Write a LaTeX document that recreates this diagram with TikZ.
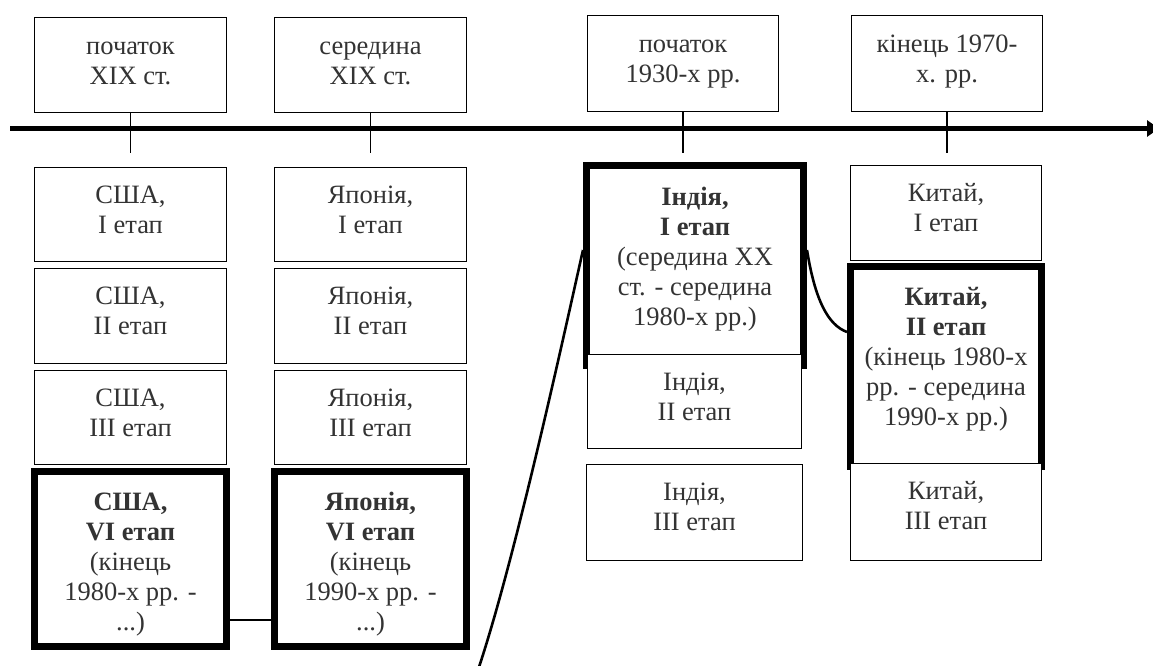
\documentclass[tikz,border=0pt]{standalone}
\usepackage{fontspec}
\setmainfont{Liberation Serif}
\usetikzlibrary{calc,arrows.meta}
\definecolor{txt}{HTML}{333333}
% box content: width, height, first-baseline offset, text
\newcommand\cellbox[4]{\parbox[c][#2pt][t]{#1pt}{\centering\rule{0pt}{#3pt}#4\par}}
\tikzset{
  cell/.style={draw, line width=1.3pt, fill=white, inner sep=0pt, text=txt,
               font=\fontsize{26.5}{30}\selectfont},
  boldcell/.style={cell, line width=7pt},
  tickline/.style={line width=1.6pt},
  axisline/.style={line width=4.5pt, -{Triangle[length=12pt,width=16pt]}},
  link/.style={line width=2.6pt},
}
\begin{document}
\begin{tikzpicture}[x=1pt,y=-1pt]
\useasboundingbox (0,0) rectangle (1153,666);

% time axis
\coordinate (axL) at (10,128.5);
\coordinate (axR) at (1159,128.5);
\draw[axisline] (axL) -- (axR);

% dates above the axis
\node[cell] (T1) at (130.5,65)  {\cellbox{192}{95}{37.5}{початок\\XIX ст.}};
\node[cell] (T2) at (370.5,65)  {\cellbox{192}{95}{37.5}{середина\\XIX ст.}};
\node[cell] (T3) at (683,63.5)  {\cellbox{191}{96}{37.5}{початок\\1930-х рр.}};
\node[cell] (T4) at (947,63.5)  {\cellbox{191}{96}{37.5}{кінець 1970-\\х. рр.}};

% ticks
\coordinate (k1) at (130.5,153);
\coordinate (k2) at (370.5,153);
\coordinate (k3) at (683,153);
\coordinate (k4) at (947,153);
\draw[tickline] (T1.south) -- (k1);
\draw[tickline] (T2.south) -- (k2);
\draw[tickline] (T3.south) -- (k3);
\draw[tickline] (T4.south) -- (k4);

% USA
\node[cell] (U1) at (130.5,214.5) {\cellbox{192}{94}{36}{США,\\I етап}};
\node[cell] (U2) at (130.5,316)   {\cellbox{192}{95}{36}{США,\\II етап}};
\node[cell] (U3) at (130.5,417.5) {\cellbox{192}{94}{36}{США,\\III етап}};
\node[boldcell] (UB) at (130.5,559) {\cellbox{192}{175}{39}{\textbf{США,}\\\textbf{VI етап}\\(кінець\\1980-х рр. -\\...)}};

% Japan
\node[cell] (J1) at (370.5,214.5) {\cellbox{192}{94}{36}{Японія,\\I етап}};
\node[cell] (J2) at (370.5,316)   {\cellbox{192}{95}{36}{Японія,\\II етап}};
\node[cell] (J3) at (370.5,417.5) {\cellbox{192}{94}{36}{Японія,\\III етап}};
\node[boldcell] (JB) at (370.5,559) {\cellbox{192}{175}{39}{\textbf{Японія,}\\\textbf{VI етап}\\(кінець\\1990-х рр. -\\...)}};

% India
\node[boldcell] (IB) at (695,265.5) {\cellbox{217}{200}{39.5}{\textbf{Індія,}\\\textbf{I етап}\\(середина ХХ\\ст. - середина\\1980-х рр.)}};
\node[cell] (I2) at (694.5,401.5) {\cellbox{214}{94}{36}{Індія,\\II етап}};
\node[cell] (I3) at (694.5,512.5) {\cellbox{216}{96}{36}{Індія,\\III етап}};

% China
\node[cell] (C1) at (946,213) {\cellbox{191}{95}{36}{Китай,\\I етап}};
\node[boldcell] (CB) at (946,366.5) {\cellbox{191}{200}{39}{\textbf{Китай,}\\\textbf{II етап}\\(кінець 1980-х\\рр. - середина\\1990-х рр.)}};
\node[cell] (C3) at (946,512) {\cellbox{191}{97}{36}{Китай,\\III етап}};

% links between the highlighted stages
\draw[link] ($(UB.east)+(0,61)$) -- ($(JB.west)+(0,61)$);
\coordinate (lowEnd) at (478,670);
\draw[link] (lowEnd) .. controls (515,560) and (565,330) .. ($(IB.west)+(0,-15.5)$);
\draw[link] ($(IB.east)+(0,-15.5)$) .. controls (815,300) and (828,325) .. ($(CB.west)+(0,-34.5)$);
\end{tikzpicture}
\end{document}
